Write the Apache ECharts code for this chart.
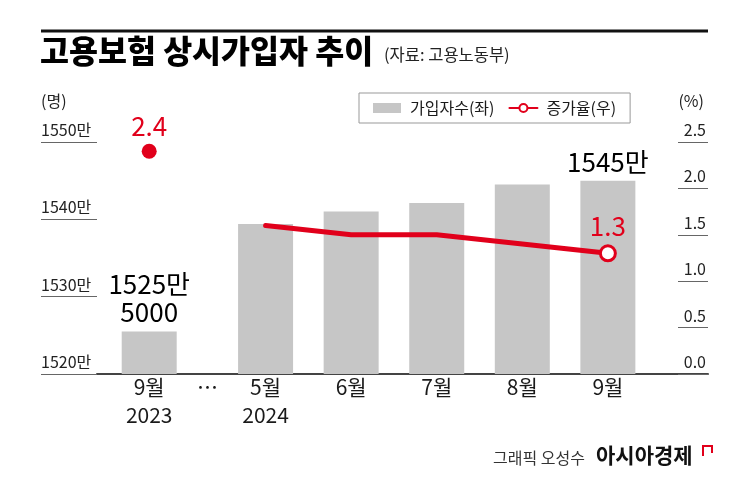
<!DOCTYPE html>
<html><head><meta charset="utf-8">
<script src="https://cdn.jsdelivr.net/npm/echarts@6/dist/echarts.min.js"></script>
<style>html,body{margin:0;padding:0;background:#fff}#c{width:745px;height:483px}</style>
</head><body><div id="c"></div>
<script>
// ---- data ----
const categories = ['9월\n2023', '⋯', '5월\n2024', '6월', '7월', '8월', '9월'];
const subscribers = [1525.5, null, 1539.4, 1541.0, 1542.1, 1544.5, 1545.0]; // 만 명
const rates = [2.4, null, 1.6, 1.5, 1.5, 1.4, 1.3]; // %
const labeledBars = [0, 6];
const labeledRates = [0, 6];
const seriesNames = ['가입자수(좌)', '증가율(우)'];
const titleText = '고용보험 상시가입자 추이';
const sourceText = '(자료: 고용노동부)';
const creditText = '그래픽 오성수';
const brandText = '아시아경제';
const leftUnit = '(명)';
const rightUnit = '(%)';

// ---- style / layout ----
const RED = '#e1001b', GRAY = '#c6c6c6', INK = '#1a1a1a';
const FONT = "'Noto Sans CJK KR', 'Noto Sans', sans-serif";
const GAP = 1.36; // width of the "⋯" break, in slots
const slot = i => i < 2 ? (i - 2) * GAP / 2 : i - 2;
const xs = categories.map((_, i) => slot(i));

const barData = [];
subscribers.forEach((v, i) => {
  if (v == null) return;
  barData.push({ value: [xs[i], v], label: { show: labeledBars.includes(i) } });
});
const lastIdx = rates.length - 1;
const lineData = rates.map((v, i) => {
  if (v == null) return { value: [xs[i], '-'] };
  const item = { value: [xs[i], v], symbol: 'none', label: { show: labeledRates.includes(i) } };
  if (i === 0) { item.symbol = 'circle'; item.symbolSize = 15; item.itemStyle = { color: RED, borderWidth: 0 }; }
  if (i === lastIdx) { item.symbol = 'circle'; item.symbolSize = 15; item.itemStyle = { color: '#fff', borderColor: RED, borderWidth: 3 }; }
  return item;
});

const chart = echarts.init(document.getElementById('c'), null, { renderer: 'canvas' });
chart.setOption({
  animation: false,
  textStyle: { fontFamily: FONT },
  title: [
    { text: titleText, left: 40, top: 35, padding: 0,
      textStyle: { fontSize: 31.5, fontWeight: 900, color: '#000', fontFamily: FONT } },
    { text: sourceText, left: 384, top: 46, padding: 0,
      textStyle: { fontSize: 16.5, fontWeight: 'normal', color: '#222', fontFamily: FONT } }
  ],
  legend: {
    left: 359, top: 93, orient: 'horizontal',
    borderColor: '#999', borderWidth: 1, padding: [7, 14, 7, 14],
    itemWidth: 28, itemHeight: 10, itemGap: 14,
    textStyle: { fontSize: 16, color: INK, fontFamily: FONT, padding: [0, 0, 0, 4] },
    data: [{ name: seriesNames[0], icon: 'rect' }, { name: seriesNames[1] }]
  },
  grid: { left: 97, right: 37, top: 142, bottom: 109, containLabel: false },
  xAxis: {
    type: 'value', min: -1.97, max: 5.17,
    splitLine: { show: false }, axisTick: { show: false },
    axisLine: { show: true, onZero: false, lineStyle: { color: '#444', width: 2 } },
    axisLabel: {
      customValues: xs,
      formatter: v => { const k = xs.findIndex(x => Math.abs(x - v) < 1e-6); return k < 0 ? '' : categories[k]; },
      fontSize: 21, lineHeight: 28, color: INK, margin: -1, fontFamily: FONT
    }
  },
  yAxis: [
    { type: 'value', min: 1520, max: 1550, interval: 10, position: 'left',
      axisLine: { show: false, onZero: false }, splitLine: { show: false },
      axisTick: { show: true, length: 56, lineStyle: { color: '#666', width: 1 } },
      axisLabel: { align: 'left', margin: 56, verticalAlign: 'bottom', padding: [0, 0, 4, 0],
        fontSize: 16, color: '#222', fontFamily: FONT, formatter: v => v + '만' } },
    { type: 'value', min: 0, max: 2.5, interval: 0.5, position: 'right',
      axisLine: { show: false, onZero: false }, splitLine: { show: false },
      axisTick: { show: true, inside: true, length: 30, lineStyle: { color: '#666', width: 1 } },
      axisLabel: { align: 'right', margin: -2, verticalAlign: 'bottom', padding: [0, 0, 4, 0],
        fontSize: 16, color: '#222', fontFamily: FONT, formatter: v => v.toFixed(1) } }
  ],
  series: [
    { name: seriesNames[0], type: 'bar', yAxisIndex: 0, barWidth: 55,
      itemStyle: { color: GRAY },
      label: { position: 'top', distance: 5, fontSize: 26, lineHeight: 28, color: '#000', fontFamily: FONT,
        formatter: p => { const v = p.value[1]; const man = Math.floor(v); const rest = Math.round((v - man) * 10000);
          return rest ? man + '만\n' + rest : man + '만'; } },
      data: barData },
    { name: seriesNames[1], type: 'line', yAxisIndex: 1,
      symbol: 'circle', symbolSize: 14, connectNulls: false,
      itemStyle: { color: '#fff', borderColor: RED, borderWidth: 3 },
      lineStyle: { color: RED, width: 5, cap: 'round' },
      label: { position: 'top', distance: 5, fontSize: 26, color: RED, fontFamily: FONT,
        formatter: p => Number(p.value[1]).toFixed(1) },
      data: lineData }
  ],
  graphic: [
    { type: 'line', shape: { x1: 41, y1: 31, x2: 708, y2: 31 }, style: { stroke: '#111', lineWidth: 3 } },
    { type: 'text', x: 41, y: 93, style: { text: leftUnit, fill: '#222', font: '16px ' + FONT, align: 'left', verticalAlign: 'top' } },
    { type: 'text', x: 704, y: 93, style: { text: rightUnit, fill: '#222', font: '16px ' + FONT, align: 'right', verticalAlign: 'top' } },
    { type: 'text', x: 493, y: 450, style: { text: creditText, fill: '#333', font: '16px ' + FONT, align: 'left', verticalAlign: 'top' } },
    { type: 'text', x: 596, y: 445, style: { text: brandText, fill: '#111', font: 'bold 21px ' + FONT, align: 'left', verticalAlign: 'top' } },
    { type: 'polyline', shape: { points: [[703, 456], [703, 446], [712, 446], [712, 453]] }, style: { stroke: RED, lineWidth: 2, fill: null } }
  ]
});
</script>
</body></html>
